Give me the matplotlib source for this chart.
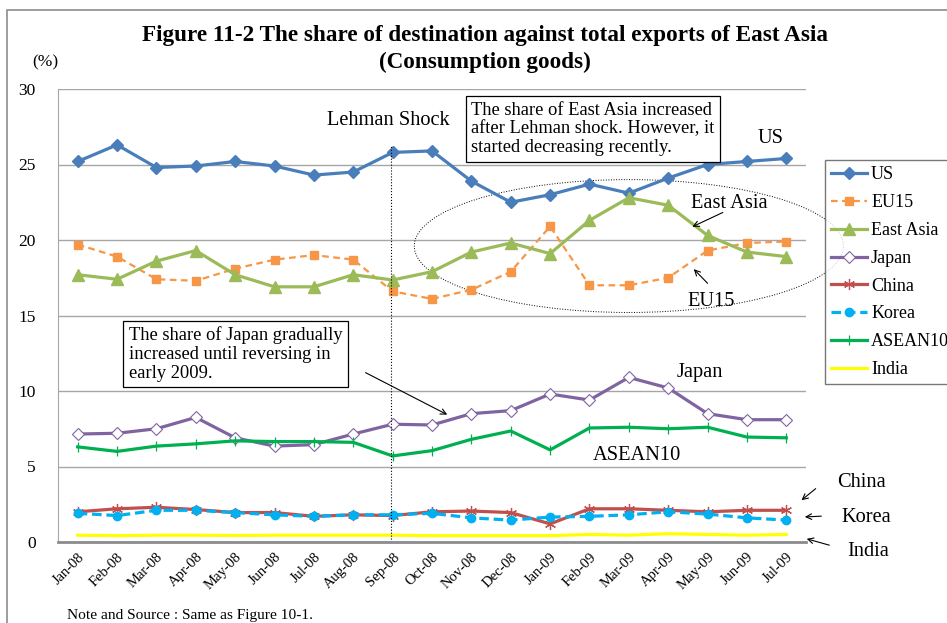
import matplotlib

matplotlib.use("Agg")
import matplotlib.pyplot as plt
from matplotlib.patches import Ellipse, Rectangle

plt.rcParams["font.family"] = ["Liberation Serif", "DejaVu Serif"]

months = ["Jan-08", "Feb-08", "Mar-08", "Apr-08", "May-08", "Jun-08", "Jul-08",
          "Aug-08", "Sep-08", "Oct-08", "Nov-08", "Dec-08", "Jan-09", "Feb-09",
          "Mar-09", "Apr-09", "May-09", "Jun-09", "Jul-09"]

us = [25.2, 26.3, 24.8, 24.9, 25.2, 24.9, 24.3, 24.5, 25.8, 25.9,
      23.9, 22.5, 23.0, 23.7, 23.1, 24.1, 25.0, 25.2, 25.4]
eu15 = [19.7, 18.9, 17.4, 17.3, 18.1, 18.7, 19.0, 18.7, 16.6, 16.1,
        16.7, 17.9, 20.9, 17.0, 17.0, 17.5, 19.3, 19.8, 19.9]
east_asia = [17.7, 17.4, 18.6, 19.3, 17.7, 16.9, 16.9, 17.7, 17.35, 17.9,
             19.2, 19.8, 19.1, 21.3, 22.8, 22.3, 20.3, 19.2, 18.9]
japan = [7.15, 7.2, 7.5, 8.25, 6.9, 6.35, 6.45, 7.15, 7.8, 7.75,
         8.5, 8.7, 9.8, 9.4, 10.9, 10.2, 8.5, 8.1, 8.1]
china = [2.0, 2.2, 2.3, 2.15, 1.95, 1.95, 1.7, 1.8, 1.75, 2.0,
         2.05, 1.95, 1.2, 2.2, 2.2, 2.1, 2.0, 2.1, 2.1]
korea = [1.9, 1.75, 2.1, 2.1, 1.95, 1.8, 1.7, 1.8, 1.8, 1.9,
         1.6, 1.45, 1.65, 1.7, 1.8, 2.0, 1.85, 1.6, 1.45]
asean10 = [6.3, 6.0, 6.35, 6.5, 6.7, 6.65, 6.65, 6.6, 5.7, 6.05,
           6.8, 7.35, 6.1, 7.55, 7.6, 7.5, 7.6, 6.95, 6.9]
india = [0.45, 0.42, 0.45, 0.45, 0.43, 0.45, 0.45, 0.45, 0.45, 0.42,
         0.42, 0.42, 0.42, 0.5, 0.45, 0.55, 0.5, 0.45, 0.5]

x = list(range(len(months)))

fig = plt.figure(figsize=(9.47, 6.23), dpi=100)
ax = fig.add_axes([58 / 947, 1 - 542 / 623, (806 - 58) / 947, (542 - 89) / 623])

# outer frame of the figure (left and top only are visible)
fig.patches.append(Rectangle((7 / 947, -0.05), 1.0, 1.05 - 10 / 623,
                             transform=fig.transFigure, fill=False,
                             edgecolor="#8c8c8c", lw=1.2))

lw = 2.3
ax.plot(x, us, color="#4A7EBB", lw=lw, marker="D", ms=6, label="US")
ax.plot(x, eu15, color="#F79646", lw=1.6, ls=(0, (3, 2)), marker="s", ms=6, label="EU15")
ax.plot(x, east_asia, color="#9BBB59", lw=lw, marker="^", ms=8, label="East Asia")
ax.plot(x, japan, color="#8064A2", lw=lw, marker="D", ms=6, mfc="white",
        mec="#8064A2", mew=0.8, label="Japan")
ax.plot(x, china, color="#C0504D", lw=lw, marker=(6, 2, 0), ms=8, mew=0.9,
        label="China")
ax.plot(x, korea, color="#00B0F0", lw=lw, ls=(0, (3, 1.5)), marker="o", ms=6,
        label="Korea")
ax.plot(x, asean10, color="#00B050", lw=lw, marker="|", ms=7, mew=0.9,
        label="ASEAN10")
ax.plot(x, india, color="#FFFF00", lw=lw, label="India")

ax.set_xlim(-0.5, 18.5)
ax.set_ylim(0, 30)
ax.set_yticks(range(0, 31, 5))
ax.set_xticks(x)
ax.set_xticklabels(months, rotation=45, ha="right", rotation_mode="anchor",
                   fontsize=10.5)
ax.tick_params(axis="x", length=0, pad=6)
ax.tick_params(axis="y", length=0, pad=16, labelsize=12.5)
ax.grid(axis="y", color="#a6a6a6", lw=1)
ax.set_axisbelow(True)
for s in ["right", "top"]:
    ax.spines[s].set_visible(False)
ax.spines["left"].set_color("#a6a6a6")
ax.spines["bottom"].set_color("#8c8c8c")
ax.spines["bottom"].set_linewidth(2)

fig.text(485 / 947, 1 - 49 / 623,
         "Figure 11-2 The share of destination against total exports of East Asia\n"
         "(Consumption goods)",
         ha="center", va="center", fontsize=16.7, fontweight="bold",
         linespacing=1.35)
fig.text(45 / 947, 1 - 62 / 623, "(%)", ha="center", va="center", fontsize=12.5)

# Lehman shock marker
ax.plot([7.97, 7.97], [-0.2, 26.2], color="black", lw=0.8, ls=":")
ax.text(7.9, 27.9, "Lehman Shock", ha="center", va="center", fontsize=14.7)

# ellipse around East Asia / EU15 after Lehman
ax.add_patch(Ellipse((14.0, 19.6), 10.9, 8.8, fill=False, ec="black",
                     lw=0.7, ls=":", clip_on=False))

ax.text(10.0, 27.35, "The share of East Asia increased\nafter Lehman shock. However, it\n"
        "started decreasing recently.", ha="left", va="center", fontsize=13.3,
        linespacing=1.15,
        bbox=dict(boxstyle="square,pad=0.3", fc="white", ec="black", lw=0.9))
ax.text(1.3, 12.45, "The share of Japan gradually\nincreased until reversing in\n"
        "early 2009.", ha="left", va="center", fontsize=13.3, linespacing=1.15,
        bbox=dict(boxstyle="square,pad=0.3", fc="white", ec="black", lw=0.9))
ax.annotate("", xy=(9.45, 8.35), xytext=(7.25, 11.3),
            arrowprops=dict(arrowstyle="->", color="black", lw=0.8))

ax.text(17.6, 26.7, "US", ha="center", va="center", fontsize=14.7)
ax.text(16.55, 22.4, "East Asia", ha="center", va="center", fontsize=14.7)
ax.annotate("", xy=(15.55, 20.8), xytext=(16.45, 21.9),
            arrowprops=dict(arrowstyle="->", color="black", lw=0.8))
ax.text(16.1, 15.9, "EU15", ha="center", va="center", fontsize=14.7)
ax.annotate("", xy=(15.6, 18.2), xytext=(16.05, 17.0),
            arrowprops=dict(arrowstyle="->", color="black", lw=0.8))
ax.text(15.8, 11.2, "Japan", ha="center", va="center", fontsize=14.7)
ax.text(14.2, 5.7, "ASEAN10", ha="center", va="center", fontsize=14.7)

ax.text(19.9, 3.95, "China", ha="center", va="center", fontsize=14.7, clip_on=False)
ax.annotate("", xy=(18.33, 2.65), xytext=(18.8, 3.65), annotation_clip=False,
            arrowprops=dict(arrowstyle="->", color="black", lw=0.8))
ax.text(20.03, 1.65, "Korea", ha="center", va="center", fontsize=14.7, clip_on=False)
ax.annotate("", xy=(18.4, 1.65), xytext=(18.96, 1.72), annotation_clip=False,
            arrowprops=dict(arrowstyle="->", color="black", lw=0.8))
ax.text(20.08, -0.6, "India", ha="center", va="center", fontsize=14.7, clip_on=False)
ax.annotate("", xy=(18.45, 0.26), xytext=(19.16, -0.26), annotation_clip=False,
            arrowprops=dict(arrowstyle="->", color="black", lw=0.8))

leg = fig.legend(loc="upper left", bbox_to_anchor=(825 / 947, 1 - 160 / 623),
                 fontsize=13, frameon=True, fancybox=False, edgecolor="#555555",
                 handlelength=2.0, handletextpad=0.2, labelspacing=0.6,
                 borderpad=0.35, borderaxespad=0)
leg.get_frame().set_linewidth(1.0)

fig.text(67 / 947, 1 - 616 / 623, "Note and Source : Same as Figure 10-1.",
         ha="left", va="center", fontsize=11.1)

fig.savefig("out.png", dpi=100)
